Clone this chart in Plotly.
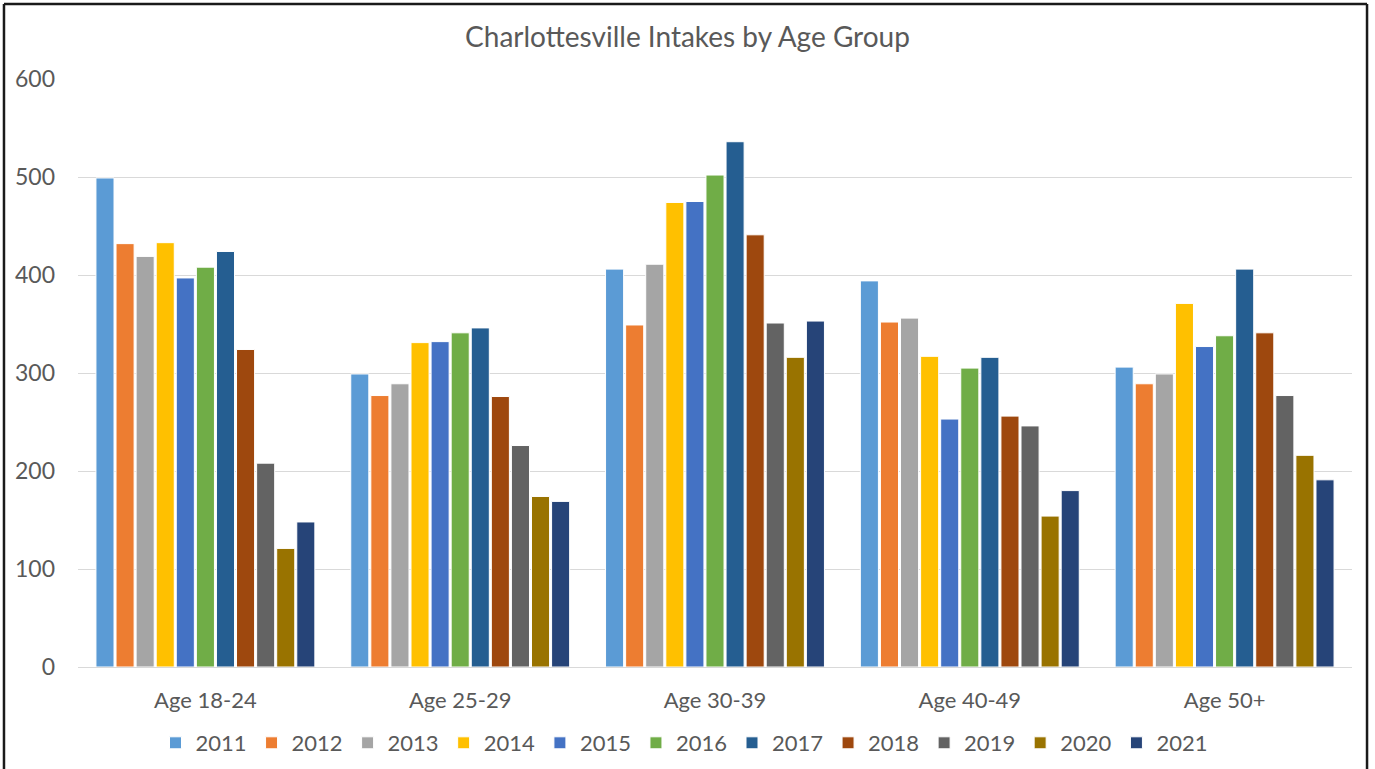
import plotly.graph_objects as go

# Intakes by age group, one series per year
age_groups = ["Age 18-24", "Age 25-29", "Age 30-39", "Age 40-49", "Age 50+"]
years = ["2011", "2012", "2013", "2014", "2015", "2016",
         "2017", "2018", "2019", "2020", "2021"]

intakes_2011 = [499, 299, 406, 394, 306]
intakes_2012 = [432, 277, 349, 352, 289]
intakes_2013 = [419, 289, 411, 356, 299]
intakes_2014 = [433, 331, 474, 317, 371]
intakes_2015 = [397, 332, 475, 253, 327]
intakes_2016 = [408, 341, 502, 305, 338]
intakes_2017 = [424, 346, 536, 316, 406]
intakes_2018 = [324, 276, 441, 256, 341]
intakes_2019 = [208, 226, 351, 246, 277]
intakes_2020 = [121, 174, 316, 154, 216]
intakes_2021 = [148, 169, 353, 180, 191]

series = [intakes_2011, intakes_2012, intakes_2013, intakes_2014, intakes_2015,
          intakes_2016, intakes_2017, intakes_2018, intakes_2019, intakes_2020,
          intakes_2021]

colors = ["#5B9BD5", "#ED7D31", "#A5A5A5", "#FFC000", "#4472C4", "#70AD47",
          "#255E91", "#9E480E", "#636363", "#997300", "#264478"]

FONT = "Lato"
TEXT = "#595959"

fig = go.Figure()
for year, values, color in zip(years, series, colors):
    fig.add_trace(go.Bar(
        name=year, x=age_groups, y=values,
        marker=dict(color=color, line=dict(color="white", width=1)),
    ))

# outer frame around the chart area
frame = dict(type="line", xref="paper", yref="paper",
             line=dict(color="#1a1a1a", width=2.5))
shapes = [
    dict(frame, x0=-0.0581, x1=1.0118, y0=1.1276, y1=1.1276),
    dict(frame, x0=-0.0581, x1=-0.0581, y0=1.1276, y1=-0.35),
    dict(frame, x0=1.0118, x1=1.0118, y0=1.1276, y1=-0.35),
]

fig.update_layout(
    width=1375, height=769,
    margin=dict(l=78, r=23, t=79, b=102, autoexpand=False),
    paper_bgcolor="white", plot_bgcolor="white",
    barmode="group", bargap=0.133, bargroupgap=0.1,
    font=dict(family=FONT, color=TEXT, size=22),
    title=dict(text="Charlottesville Intakes by Age Group",
               x=0.5, xref="container", xanchor="center",
               y=1 - 37 / 769, yref="container", yanchor="middle",
               font=dict(family=FONT, size=28, color=TEXT)),
    xaxis=dict(showgrid=False, ticks="", showline=True, linecolor="#D9D9D9",
               linewidth=1, ticklabelstandoff=14, tickangle=0,
               automargin=False, tickfont=dict(size=22, color=TEXT)),
    yaxis=dict(range=[0, 600], dtick=100, showgrid=True, gridcolor="#D9D9D9",
               gridwidth=1, zeroline=True, zerolinecolor="#D9D9D9",
               zerolinewidth=1, ticks="", showline=False, automargin=False,
               ticklabelstandoff=22, tickfont=dict(size=23, color=TEXT)),
    legend=dict(orientation="h", x=(684 - 78) / 1274, xanchor="center",
                y=(667 - 743) / 588, yanchor="middle",
                font=dict(size=22, color=TEXT), traceorder="normal",
                itemwidth=30, bgcolor="rgba(0,0,0,0)"),
    shapes=shapes,
)

fig.write_html("out.html")
